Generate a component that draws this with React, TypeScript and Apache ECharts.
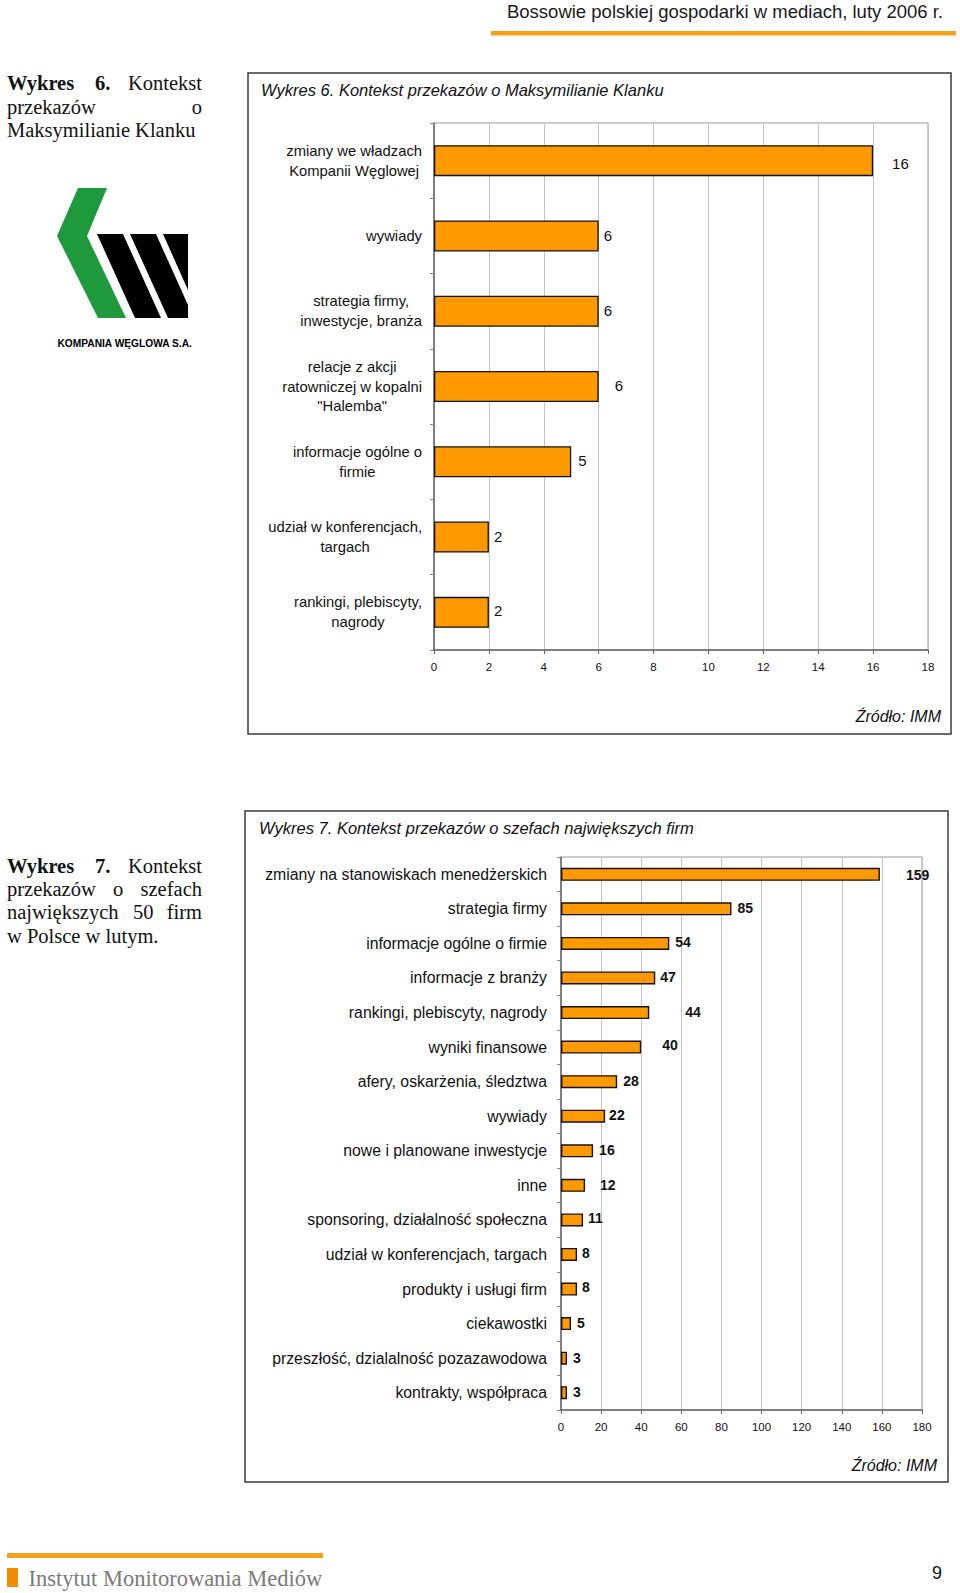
import React, { useEffect, useRef } from 'react';
import * as echarts from 'echarts';

// ---------- data ----------
const chart1Title = 'Wykres 6. Kontekst przekazów o Maksymilianie Klanku';
const chart1Categories = [
  'zmiany we władzach\nKompanii Węglowej',
  'wywiady',
  'strategia firmy,\ninwestycje, branża',
  'relacje z akcji\nratowniczej w kopalni\n"Halemba"',
  'informacje ogólne o\nfirmie',
  'udział w konferencjach,\ntargach',
  'rankingi, plebiscyty,\nnagrody',
];
const chart1Values = [16, 6, 6, 6, 5, 2, 2];
const chart1AxisMin = 0;
const chart1AxisMax = 18;
const chart1AxisStep = 2;

const chart2Title = 'Wykres 7. Kontekst przekazów o szefach największych firm';
const chart2Categories = [
  'zmiany na stanowiskach menedżerskich',
  'strategia firmy',
  'informacje ogólne o firmie',
  'informacje z branży',
  'rankingi, plebiscyty, nagrody',
  'wyniki finansowe',
  'afery, oskarżenia, śledztwa',
  'wywiady',
  'nowe i planowane inwestycje',
  'inne',
  'sponsoring, działalność społeczna',
  'udział w konferencjach, targach',
  'produkty i usługi firm',
  'ciekawostki',
  'przeszłość, dzialalność pozazawodowa',
  'kontrakty, współpraca',
];
const chart2Values = [159, 85, 54, 47, 44, 40, 28, 22, 16, 12, 11, 8, 8, 5, 3, 3];
const chart2AxisMin = 0;
const chart2AxisMax = 180;
const chart2AxisStep = 20;

// label nudges (style only, in px)
const chart1LabelNudge = [[14, 3], [0, 0], [0, -1], [11, -1], [2, -1], [0, -1], [0, -2]];
const chart2LabelNudge = [
  [21, 1], [1, -1], [1, -1], [0, -1], [31, -1], [16, -2], [1, -1], [-1, -1],
  [1, -1], [10, 0], [0, -2], [0, -1], [0, -2], [1, -1], [1, 0], [1, -1],
];

const SANS = "'Liberation Sans', Arial, Helvetica, sans-serif";
const SERIF = "'Liberation Serif', 'Times New Roman', serif";
const ORANGE = '#FF9900';
const LINE_ORANGE = '#F7A11A';

function txt(text: string, x: number, y: number, o: any = {}) {
  const align = o.align || 'left';
  const va = o.va || 'middle';
  return {
    type: 'text',
    x,
    y,
    silent: true,
    style: {
      text,
      fill: o.color || '#111',
      fontSize: o.size || 14,
      fontFamily: o.family || SANS,
      fontWeight: o.weight || 'normal',
      fontStyle: o.style || 'normal',
      align,
      verticalAlign: va,
      textAlign: align,
      textVerticalAlign: va,
    },
  };
}

export default function App() {
  const ref = useRef<HTMLDivElement>(null);

  useEffect(() => {
    if (!ref.current) return;
    const chart = echarts.init(ref.current, undefined, { renderer: 'svg' });

    const serifSize = 20.5;
    const graphics: any[] = [
      // header
      txt('Bossowie polskiej gospodarki w mediach, luty 2006 r.', 943, 11.5, { size: 18.5, align: 'right', color: '#1a1a1a' }),
      { type: 'rect', shape: { x: 491, y: 31, width: 465, height: 4.5 }, style: { fill: LINE_ORANGE }, silent: true },

      // left paragraph 1
      txt('Wykres', 7, 83.3, { family: SERIF, size: serifSize, weight: 'bold' }),
      txt('6.', 95, 83.3, { family: SERIF, size: serifSize, weight: 'bold' }),
      txt('Kontekst', 202, 83.3, { family: SERIF, size: serifSize, align: 'right' }),
      txt('przekazów', 7, 106.7, { family: SERIF, size: serifSize }),
      txt('o', 202, 106.7, { family: SERIF, size: serifSize, align: 'right' }),
      txt('Maksymilianie Klanku', 7, 130, { family: SERIF, size: serifSize }),

      // logo
      { type: 'polygon', silent: true, shape: { points: [[78, 188], [107, 188], [87, 236], [126, 318], [98, 318], [57, 236]] }, style: { fill: '#1E9A3C' } },
      { type: 'polygon', silent: true, shape: { points: [[97, 234], [123, 234], [161, 318], [135, 318]] }, style: { fill: '#000' } },
      { type: 'polygon', silent: true, shape: { points: [[130, 234], [156, 234], [188, 305], [188, 318], [168, 318]] }, style: { fill: '#000' } },
      { type: 'polygon', silent: true, shape: { points: [[163, 234], [188, 234], [188, 290]] }, style: { fill: '#000' } },
      txt('KOMPANIA WĘGLOWA S.A.', 57.5, 343.5, { size: 10.2, weight: 'bold', color: '#000' }),

      // chart 1 frame + title + source
      { type: 'rect', silent: true, shape: { x: 248, y: 73, width: 703, height: 661 }, style: { fill: 'none', stroke: '#3a3a3a', lineWidth: 1.5 } },
      txt(chart1Title, 261, 89.5, { size: 16.5, style: 'italic' }),
      txt('Źródło: IMM', 941, 716, { size: 16, style: 'italic', align: 'right' }),

      // left paragraph 2
      txt('Wykres', 7, 865.6, { family: SERIF, size: serifSize, weight: 'bold' }),
      txt('7.', 95, 865.6, { family: SERIF, size: serifSize, weight: 'bold' }),
      txt('Kontekst', 202, 865.6, { family: SERIF, size: serifSize, align: 'right' }),
      txt('przekazów', 7, 889, { family: SERIF, size: serifSize }),
      txt('o', 113, 889, { family: SERIF, size: serifSize }),
      txt('szefach', 202, 889, { family: SERIF, size: serifSize, align: 'right' }),
      txt('największych', 7, 912.4, { family: SERIF, size: serifSize }),
      txt('50', 133, 912.4, { family: SERIF, size: serifSize }),
      txt('firm', 202, 912.4, { family: SERIF, size: serifSize, align: 'right' }),
      txt('w Polsce w lutym.', 7, 935.7, { family: SERIF, size: serifSize }),

      // chart 2 frame + title + source
      { type: 'rect', silent: true, shape: { x: 245, y: 811, width: 703, height: 671 }, style: { fill: 'none', stroke: '#3a3a3a', lineWidth: 1.5 } },
      txt(chart2Title, 259, 828, { size: 16.5, style: 'italic' }),
      txt('Źródło: IMM', 937, 1465, { size: 16, style: 'italic', align: 'right' }),

      // footer
      { type: 'rect', silent: true, shape: { x: 7, y: 1553, width: 316, height: 5 }, style: { fill: LINE_ORANGE } },
      { type: 'rect', silent: true, shape: { x: 7, y: 1568, width: 11, height: 19 }, style: { fill: '#F28C00' } },
      txt('Instytut Monitorowania Mediów', 28.5, 1578, { family: SERIF, size: 22.5, color: '#7a7a7a' }),
      txt('9', 937, 1573, { size: 18, align: 'center', color: '#111' }),
    ];

    const cat1Rich = {
      c: { align: 'center', fontSize: 14.8, fontFamily: SANS, color: '#111', lineHeight: 19.8 },
    };

    const option: any = {
      animation: false,
      backgroundColor: '#ffffff',
      grid: [
        { left: 434, top: 123, width: 494, height: 527, show: true, borderColor: '#9a9a9a', borderWidth: 1, containLabel: false },
        { left: 561, top: 857, width: 361, height: 553, show: true, borderColor: '#9a9a9a', borderWidth: 1, containLabel: false },
      ],
      xAxis: [
        {
          gridIndex: 0, type: 'value', min: chart1AxisMin, max: chart1AxisMax, interval: chart1AxisStep,
          axisLine: { show: true, lineStyle: { color: '#666', width: 1.5 } },
          axisTick: { show: true, length: 4, lineStyle: { color: '#666' } },
          splitLine: { show: true, lineStyle: { color: '#c4c4c4', width: 1 } },
          axisLabel: { margin: 11, fontSize: 11.5, color: '#111', fontFamily: SANS },
        },
        {
          gridIndex: 1, type: 'value', min: chart2AxisMin, max: chart2AxisMax, interval: chart2AxisStep,
          axisLine: { show: true, lineStyle: { color: '#666', width: 1.5 } },
          axisTick: { show: true, length: 4, lineStyle: { color: '#666' } },
          splitLine: { show: true, lineStyle: { color: '#c4c4c4', width: 1 } },
          axisLabel: { margin: 11, fontSize: 11.5, color: '#111', fontFamily: SANS },
        },
      ],
      yAxis: [
        {
          gridIndex: 0, type: 'category', inverse: true, data: chart1Categories,
          axisLine: { show: true, lineStyle: { color: '#666', width: 1.5 } },
          axisTick: { show: true, length: 4, lineStyle: { color: '#888' } },
          axisLabel: {
            margin: 12,
            formatter: (v: string) => v.split('\n').map((l) => `{c|${l}}`).join('\n'),
            rich: cat1Rich,
          },
        },
        {
          gridIndex: 1, type: 'category', inverse: true, data: chart2Categories,
          axisLine: { show: true, lineStyle: { color: '#666', width: 1.5 } },
          axisTick: { show: true, length: 4, lineStyle: { color: '#888' } },
          axisLabel: { margin: 14, fontSize: 15.8, color: '#111', fontFamily: SANS },
        },
      ],
      series: [
        {
          type: 'bar', xAxisIndex: 0, yAxisIndex: 0, barWidth: 31,
          data: chart1Values.map((v, i) => ({ value: v, label: { offset: chart1LabelNudge[i] } })),
          itemStyle: { color: ORANGE, borderColor: '#111', borderWidth: 1.3 },
          label: { show: true, position: 'right', distance: 5, fontSize: 15, color: '#111', fontFamily: SANS },
        },
        {
          type: 'bar', xAxisIndex: 1, yAxisIndex: 1, barWidth: 13,
          data: chart2Values.map((v, i) => ({ value: v, label: { offset: chart2LabelNudge[i] } })),
          itemStyle: { color: ORANGE, borderColor: '#1a1000', borderWidth: 1.4 },
          label: { show: true, position: 'right', distance: 5, fontSize: 14, fontWeight: 'bold', color: '#111', fontFamily: SANS },
        },
      ],
      graphic: { elements: graphics },
    };

    chart.setOption(option);
    return () => {
      chart.dispose();
    };
  }, []);

  return (
    <div
      ref={ref}
      style={{ position: 'absolute', left: 0, top: 0, width: 960, height: 1593, background: '#fff' }}
    />
  );
}
